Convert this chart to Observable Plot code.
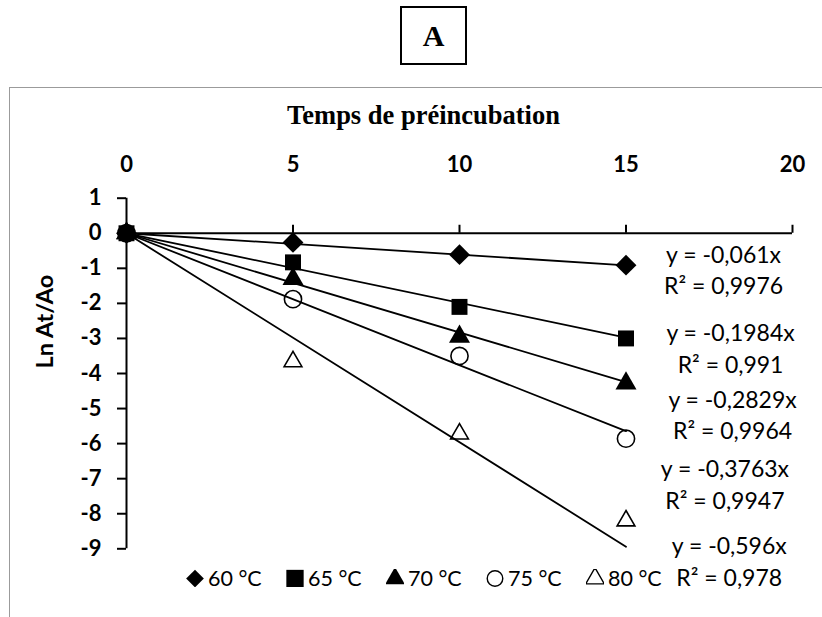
<!DOCTYPE html>
<html>
<head>
<meta charset="utf-8">
<script src="https://cdn.jsdelivr.net/npm/d3@7"></script>
<script src="https://cdn.jsdelivr.net/npm/@observablehq/plot@0.6"></script>
<style>
  body { margin: 0; background: #fff; }
  #wrap { position: relative; width: 822px; height: 617px; overflow: hidden; font-family: Lato, "Open Sans", sans-serif; }
  #chart { position: absolute; left: 0; top: 0; }
  #frame { position: absolute; left: 9px; top: 87px; width: 900px; height: 700px; border: 1.5px solid #9b9b9b; box-sizing: border-box; }
  #tag { position: absolute; left: 400px; top: 6px; width: 67px; height: 59px; border: 2px solid #000; box-sizing: border-box;
         font: bold 30px "Liberation Serif", serif; display: flex; align-items: center; justify-content: center; }
  #title { position: absolute; left: 0; width: 847px; top: 102px; text-align: center; font: bold 26.5px/26.5px "Liberation Serif", serif; }
  #legend { position: absolute; top: 565px; left: 186px; display: flex; }
  .item { width: 100px; display: flex; align-items: center; font-size: 21.5px; line-height: 26px; white-space: nowrap; }
  .item svg { margin-right: 4px; }
</style>
</head>
<body>
<div id="wrap">
  <div id="frame"></div>
  <div id="tag">A</div>
  <div id="title"></div>
  <div id="chart"></div>
  <div id="legend"></div>
</div>
<script>
// Preincubation times (min) and ln(At/Ao) for each temperature
const temps = [0, 5, 10, 15];
const seriesNames = ["60 °C", "65 °C", "70 °C", "75 °C", "80 °C"];
const ln60 = [0, -0.26, -0.61, -0.91];
const ln65 = [0, -0.83, -2.1, -3.0];
const ln70 = [0, -1.3, -2.95, -4.28];
const ln75 = [0, -1.88, -3.5, -5.86];
const ln80 = [0, -3.66, -5.72, -8.2];

// Linear fits through the origin
const slopes = [-0.061, -0.1984, -0.2829, -0.3763, -0.596];
const r2 = [0.9976, 0.991, 0.9964, 0.9947, 0.978];

// Axis ticks and titles
const xTicks = [0, 5, 10, 15, 20];
const yTicks = [1, 0, -1, -2, -3, -4, -5, -6, -7, -8, -9];
const xTitle = "Temps de préincubation";
const yTitle = "Ln At/Ao";

// Where each fit equation sits, in data units
const eqAt = [[17.93, -1.0], [18.14, -3.23], [18.2, -5.14], [17.97, -7.11], [18.1, -9.32]];

// Marker look for each series
const symbolTypes = ["diamond2", "square", "triangle", "circle", "triangle"];
const filled = [true, true, true, false, false];
const radius = [9.4, 9, 7.8, 8.6, 6.6];

const values = [ln60, ln65, ln70, ln75, ln80];
const points = seriesNames.flatMap((s, i) => temps.map((t, j) => ({s, i, t, v: values[i][j]})));
const tEnd = d3.max(temps);
const trend = seriesNames.flatMap((s, i) => [0, tEnd].map(t => ({s, t, v: slopes[i] * t})));
const comma = v => String(v).replace(".", ",");
const equations = seriesNames.map((s, i) => ({
  x: eqAt[i][0], y: eqAt[i][1],
  label: `y = ${comma(slopes[i])}x\nR² = ${comma(r2[i])}`
}));

const dotMarks = seriesNames.map((s, i) => Plot.dot(points.filter(d => d.i === i), {
  x: "t", y: "v", symbol: () => symbolTypes[i], r: radius[i],
  fill: filled[i] ? "black" : "none",
  stroke: "black", strokeWidth: filled[i] ? 0 : 1.6
}));

const chart = Plot.plot({
  width: 822,
  height: 617,
  marginLeft: 126,
  marginRight: 30,
  marginTop: 197.7,
  marginBottom: 68.7,
  style: {background: "transparent", fontFamily: "Lato, 'Open Sans', sans-serif", color: "black"},
  x: {domain: [xTicks[0], xTicks[xTicks.length - 1]]},
  y: {domain: [yTicks[yTicks.length - 1], yTicks[0]]},
  symbol: {type: "identity"},
  marks: [
    // x axis drawn along y = 0, ticks pointing up
    Plot.ruleY([0], {x1: xTicks[0], x2: xTicks[xTicks.length - 1], stroke: "black", strokeWidth: 2}),
    Plot.ruleX(xTicks.slice(1), {x: d => d, y1: 0, y2: 0, insetBottom: 8, stroke: "black", strokeWidth: 2}),
    Plot.axisX(xTicks, {anchor: "top", tickSize: 0, tickPadding: 26, fontSize: 22, fontWeight: "bold",
      tickFormat: d => String(d), label: null}),
    // y axis
    Plot.ruleX([0], {y1: yTicks[0], y2: yTicks[yTicks.length - 1], stroke: "black", strokeWidth: 2}),
    Plot.axisY(yTicks, {anchor: "left", tickSize: 9, tickPadding: 16, strokeWidth: 2, fontSize: 22, fontWeight: "bold",
      tickFormat: d => String(d), label: null}),
    Plot.text([yTitle], {text: d => d, frameAnchor: "left", rotate: -90, dx: -81, dy: -5,
      fontSize: 23.5, fontWeight: "bold"}),
    ...dotMarks,
    // fitted lines
    Plot.line(trend, {x: "t", y: "v", z: "s", stroke: "black", strokeWidth: 1.8}),
    // fit equations
    Plot.text(equations, {x: "x", y: "y", text: "label", fontSize: 23, lineHeight: 1.38, fill: "black"})
  ]
});
document.getElementById("chart").appendChild(chart);
document.getElementById("title").textContent = xTitle;

// Legend
const legend = document.getElementById("legend");
const legendSize = [200, 300, 170, 190, 150];
seriesNames.forEach((s, i) => {
  const item = document.createElement("div");
  item.className = "item";
  const svg = d3.create("svg").attr("width", 18).attr("height", 18);
  const type = {diamond2: d3.symbolDiamond2, square: d3.symbolSquare, triangle: d3.symbolTriangle, circle: d3.symbolCircle}[symbolTypes[i]];
  svg.append("path")
    .attr("transform", "translate(9,9.5)")
    .attr("d", d3.symbol(type, legendSize[i])())
    .attr("fill", filled[i] ? "black" : "none")
    .attr("stroke", "black")
    .attr("stroke-width", filled[i] ? 0 : 1.4);
  item.appendChild(svg.node());
  const span = document.createElement("span");
  span.textContent = s;
  item.appendChild(span);
  legend.appendChild(item);
});
</script>
</body>
</html>
